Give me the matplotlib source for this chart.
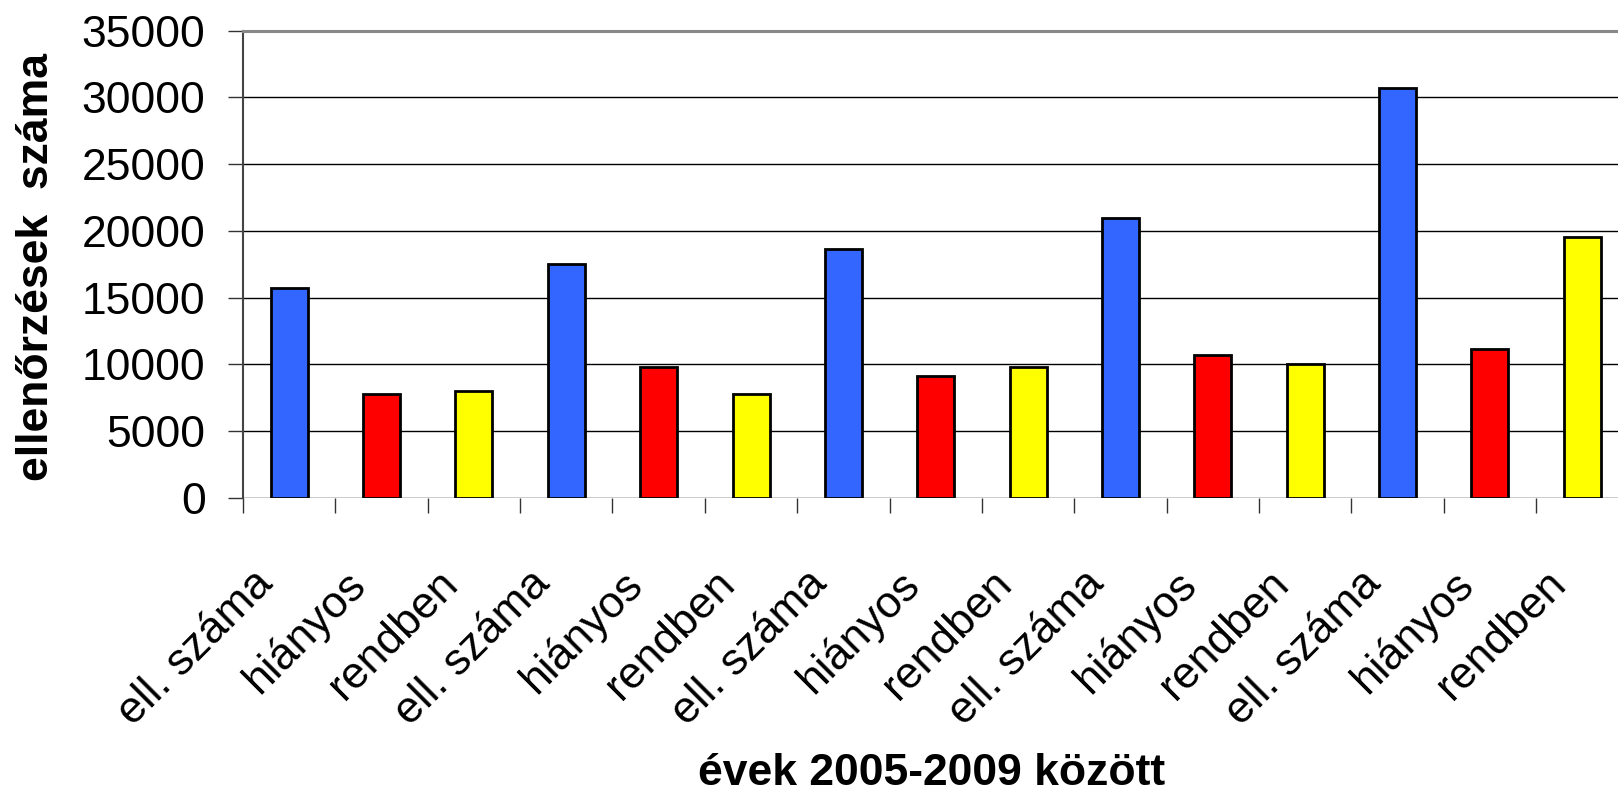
import matplotlib
matplotlib.use("Agg")
import matplotlib.pyplot as plt
import numpy as np

plt.rcParams['font.family'] = ['Liberation Sans', 'DejaVu Sans']

categories = ["ell. száma", "hiányos", "rendben"] * 5
values = [15730, 7750, 7980, 17520, 9800, 7750, 18670, 9150, 9800,
          20940, 10720, 10050, 30710, 11170, 19570]
colors = ["#3366FF", "#FF0000", "#FFFF00"] * 5
yticks = [0, 5000, 10000, 15000, 20000, 25000, 30000, 35000]
ylabel = "ellenőrzések  száma"
xlabel = "évek 2005-2009 között"

fig = plt.figure(figsize=(16.18, 7.93), dpi=100)
ax = fig.add_axes([0.1502, 0.3724, 0.8563, 0.5889])

x = np.arange(len(values))
ax.bar(x, values, width=0.4, color=colors, edgecolor="black", linewidth=2.0, zorder=3)

ax.set_xlim(-0.5, len(values) - 0.5)
ax.set_ylim(0, 35000)
ax.set_yticks(yticks)
ax.set_yticklabels([str(v) for v in yticks], fontsize=32)
ax.yaxis.grid(True, color="black", linewidth=1.0, zorder=0)

ax.set_xticks(np.arange(len(values) + 1) - 0.5)
ax.set_xticklabels([])
ax.tick_params(axis="x", length=11, width=1, color="#333333", direction="out")
ax.tick_params(axis="y", length=11, width=1, color="#333333", direction="out", pad=16)

for i, lab in enumerate(categories):
    ax.annotate(lab, xy=(i, 0), xycoords=("data", "axes fraction"),
                xytext=(-27, -47), textcoords="offset points",
                rotation=45, rotation_mode="anchor", ha="right", va="top",
                fontsize=32)

for s in ["right", "bottom"]:
    ax.spines[s].set_visible(False)
ax.spines["left"].set_color("#444444")
ax.spines["left"].set_linewidth(1.5)
ax.spines["top"].set_color("#888888")
ax.spines["top"].set_linewidth(2.2)

fig.text(0.0227, 0.6627, ylabel, rotation=90, ha="center", va="center",
         fontsize=32, fontweight="bold")
fig.text(0.5757, 0.0095, xlabel, ha="center", va="baseline",
         fontsize=32, fontweight="bold")

fig.savefig("out.png", dpi=100)
